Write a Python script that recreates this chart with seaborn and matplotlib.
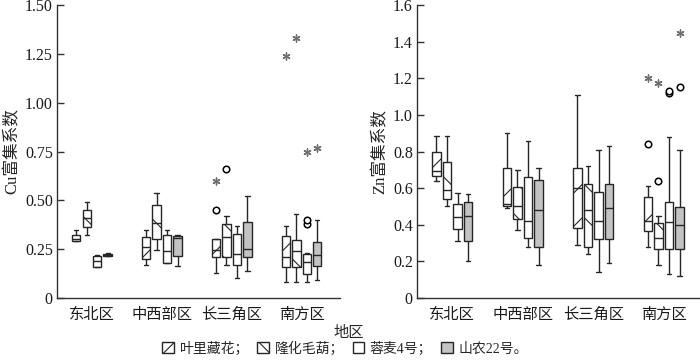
import numpy as np
import pandas as pd
import matplotlib
matplotlib.use("Agg")
import matplotlib.pyplot as plt
from matplotlib.patches import Patch
import seaborn as sns

regions = ["东北区", "中西部区", "长三角区", "南方区"]
cultivars = ["叶里藏花", "隆化毛葫", "蓉麦4号", "山农22号"]

# Cu enrichment coefficient: five-number summaries, region-major, cultivar-minor
cu_low = [0.29, 0.32, 0.16, 0.213,
          0.17, 0.245, 0.18, 0.165,
          0.13, 0.17, 0.10, 0.14,
          0.08, 0.08, 0.08, 0.09]
cu_q1 = [0.29, 0.365, 0.16, 0.215,
         0.20, 0.30, 0.18, 0.215,
         0.21, 0.21, 0.17, 0.21,
         0.16, 0.16, 0.125, 0.165]
cu_med = [0.30, 0.41, 0.19, 0.22,
          0.26, 0.385, 0.24, 0.305,
          0.245, 0.31, 0.225, 0.25,
          0.21, 0.24, 0.185, 0.22]
cu_q3 = [0.32, 0.45, 0.215, 0.226,
         0.31, 0.475, 0.32, 0.318,
         0.30, 0.38, 0.33, 0.39,
         0.315, 0.295, 0.225, 0.285]
cu_high = [0.35, 0.49, 0.22, 0.228,
           0.35, 0.54, 0.35, 0.32,
           0.30, 0.42, 0.37, 0.52,
           0.37, 0.43, 0.23, 0.40]
cu_out_region = ["长三角区", "长三角区", "长三角区", "南方区", "南方区", "南方区", "南方区", "南方区", "南方区"]
cu_out_cultivar = ["叶里藏花", "叶里藏花", "隆化毛葫", "叶里藏花", "隆化毛葫", "蓉麦4号", "蓉麦4号", "蓉麦4号", "山农22号"]
cu_out_value = [0.45, 0.60, 0.66, 1.24, 1.33, 0.38, 0.40, 0.75, 0.77]
cu_out_kind = ["o", "*", "o", "*", "*", "o", "o", "*", "*"]

# Zn enrichment coefficient
zn_low = [0.64, 0.50, 0.31, 0.20,
          0.49, 0.37, 0.28, 0.18,
          0.29, 0.24, 0.14, 0.19,
          0.28, 0.18, 0.13, 0.12]
zn_q1 = [0.665, 0.54, 0.375, 0.31,
         0.50, 0.43, 0.325, 0.28,
         0.38, 0.28, 0.32, 0.32,
         0.365, 0.27, 0.265, 0.265]
zn_med = [0.695, 0.59, 0.445, 0.45,
          0.515, 0.50, 0.42, 0.48,
          0.60, 0.48, 0.42, 0.49,
          0.42, 0.33, 0.415, 0.40]
zn_q3 = [0.795, 0.745, 0.515, 0.525,
         0.71, 0.605, 0.66, 0.645,
         0.71, 0.62, 0.58, 0.62,
         0.55, 0.41, 0.525, 0.495]
zn_high = [0.885, 0.885, 0.575, 0.57,
           0.90, 0.70, 0.86, 0.71,
           1.11, 0.72, 0.81, 0.83,
           0.61, 0.45, 0.88, 0.81]
zn_out_region = ["南方区"] * 8
zn_out_cultivar = ["叶里藏花", "叶里藏花", "隆化毛葫", "隆化毛葫", "蓉麦4号", "蓉麦4号", "山农22号", "山农22号"]
zn_out_value = [0.84, 1.20, 0.64, 1.175, 1.12, 1.13, 1.15, 1.445]
zn_out_kind = ["o", "*", "o", "*", "o", "o", "o", "*"]

cu_ticks = [0, 0.25, 0.50, 0.75, 1.00, 1.25, 1.50]
cu_ticklabels = ["0", "0.25", "0.50", "0.75", "1.00", "1.25", "1.50"]
zn_ticks = [0, 0.2, 0.4, 0.6, 0.8, 1.0, 1.2, 1.4, 1.6]
zn_ticklabels = ["0", "0.2", "0.4", "0.6", "0.8", "1.0", "1.2", "1.4", "1.6"]

hatches = {"叶里藏花": "/", "隆化毛葫": "\\", "蓉麦4号": "", "山农22号": ""}
fills = {"叶里藏花": "white", "隆化毛葫": "white", "蓉麦4号": "white", "山农22号": "#c3c3c3"}
LINE = "#262626"
WIDTH = 0.6

sns.set_theme(style="ticks")
plt.rcParams["font.family"] = ["Liberation Serif", "Noto Sans CJK SC"]
plt.rcParams["hatch.linewidth"] = 0.8
plt.rcParams["hatch.color"] = LINE
plt.rcParams["axes.unicode_minus"] = False


def long_frame(low, q1, med, q3, high):
    rows = []
    for i, vals in enumerate(zip(low, q1, med, q3, high)):
        for v in vals:
            rows.append((regions[i // 4], cultivars[i % 4], v))
    return pd.DataFrame(rows, columns=["region", "cultivar", "value"])


def out_frame(reg, cul, val, kind):
    df = pd.DataFrame({"region": reg, "cultivar": cul, "value": val, "kind": kind})
    slot = WIDTH / len(cultivars)
    df["xpos"] = [regions.index(r) + (cultivars.index(c) - 1.5) * slot
                  for r, c in zip(df["region"], df["cultivar"])]
    return df


def draw(ax, box_df, out_df, ylim, ticks, ticklabels, ylabel, xlim):
    sns.boxplot(data=box_df, x="region", y="value", hue="cultivar",
                order=regions, hue_order=cultivars, palette=fills,
                width=WIDTH, gap=0.2, whis=np.inf, showfliers=False,
                linecolor=LINE, linewidth=1.0, saturation=1,
                legend=False, ax=ax)
    slot = WIDTH / len(cultivars)
    for p in ax.patches:
        xs = p.get_path().vertices[:, 0]
        xc = (xs.min() + xs.max()) / 2
        idx = int(round((xc - round(xc)) / slot + 1.5))
        idx = min(max(idx, 0), 3)
        p.set_hatch(hatches[cultivars[idx]])
        p.set_edgecolor(LINE)
    circ = out_df[out_df["kind"] == "o"]
    star = out_df[out_df["kind"] == "*"]
    sns.scatterplot(x=circ["xpos"], y=circ["value"], marker="o", s=22,
                    color="white", edgecolor="black", linewidth=1.1,
                    ax=ax, zorder=4, legend=False)
    sns.scatterplot(x=star["xpos"], y=star["value"], marker=(6, 2, 0), s=26,
                    color="#707070", edgecolor="#707070", linewidth=1.0,
                    ax=ax, zorder=4, legend=False)
    ax.set_xlim(*xlim)
    ax.set_ylim(*ylim)
    ax.set_xticks(range(len(regions)))
    ax.set_xticklabels(regions, fontsize=11)
    ax.set_yticks(ticks)
    ax.set_yticklabels(ticklabels, fontsize=11.5)
    ax.set_xlabel("")
    ax.set_ylabel(ylabel, fontsize=12, labelpad=3)
    sns.despine(ax=ax)
    for s in ("left", "bottom"):
        ax.spines[s].set_color("#333333")
        ax.spines[s].set_linewidth(1.0)
    ax.tick_params(axis="y", direction="in", length=5, width=1, colors="#333333",
                   labelcolor="#1a1a1a", pad=3)
    ax.tick_params(axis="x", length=0, pad=7, labelcolor="#1a1a1a")


fig = plt.figure(figsize=(7.0, 3.61), dpi=100)
ax1 = fig.add_axes([57 / 700, 63 / 361, 283 / 700, 293 / 361])
ax2 = fig.add_axes([417 / 700, 63 / 361, 282 / 700, 293 / 361])

draw(ax1, long_frame(cu_low, cu_q1, cu_med, cu_q3, cu_high),
     out_frame(cu_out_region, cu_out_cultivar, cu_out_value, cu_out_kind),
     (0, 1.5), cu_ticks, cu_ticklabels, "Cu富集系数", (-0.5, 3.55))
draw(ax2, long_frame(zn_low, zn_q1, zn_med, zn_q3, zn_high),
     out_frame(zn_out_region, zn_out_cultivar, zn_out_value, zn_out_kind),
     (0, 1.6), zn_ticks, zn_ticklabels, "Zn富集系数", (-0.5, 3.5))

fig.text(349 / 700, 1 - 333 / 361, "地区", ha="center", va="center", fontsize=11)

legend_labels = ["叶里藏花；", "隆化毛葫；", "蓉麦4号；", "山农22号。"]
handles = [Patch(facecolor=fills[c], edgecolor=LINE, hatch=hatches[c] * 2, linewidth=1.0)
           for c in cultivars]
fig.legend(handles, legend_labels, loc="center", bbox_to_anchor=(345 / 700, 1 - 348.5 / 361),
           ncol=4, frameon=False, fontsize=10, handlelength=0.85, handleheight=0.85,
           handletextpad=0.4, columnspacing=0.6, borderaxespad=0, borderpad=0)

fig.savefig("out.png", dpi=100)
